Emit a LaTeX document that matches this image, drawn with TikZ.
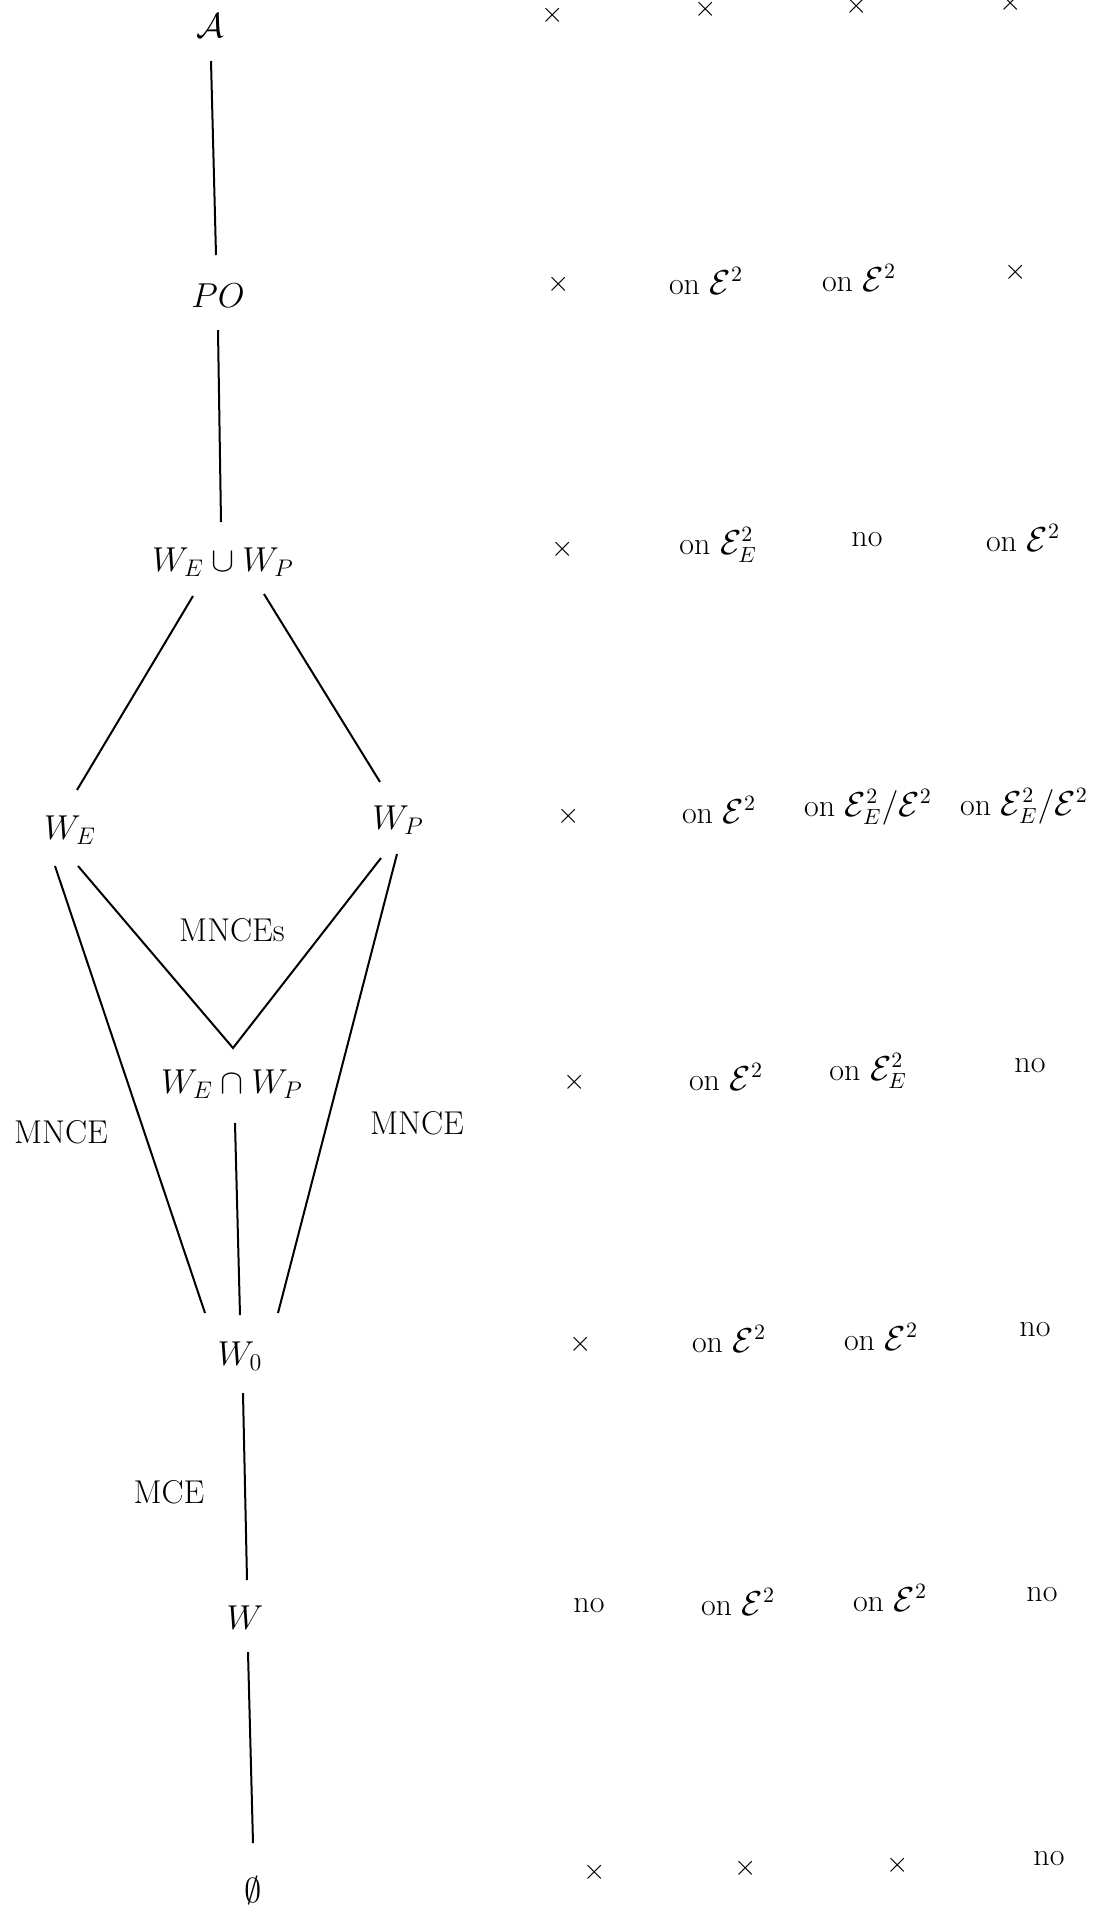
\documentclass[tikz,border=0pt]{standalone}
\usetikzlibrary{calc}
\begin{document}
\begin{tikzpicture}[x=0.5pt,y=-0.5pt,
  lbl/.style={inner sep=0pt, font=\fontsize{16.5}{19}\selectfont},
  cell/.style={inner sep=0pt, font=\fontsize{16}{19}\selectfont},
  xcell/.style={inner sep=0pt, font=\fontsize{14}{16}\selectfont},
  edge/.style={line width=1pt}]
\useasboundingbox[fill=white] (0,0) rectangle (1100,1919);

% lattice nodes
\node[lbl] (A)  at (210,26)   {$\mathcal{A}$};
\node[lbl] (PO) at (218,296)  {$PO$};
\node[lbl] (WU) at (223,562)  {$W_E\cup W_P$};
\node[lbl] (WE) at (70,830)   {$W_E$};
\node[lbl] (WP) at (398,820)  {$W_P$};
\node[lbl] (WI) at (232,1084) {$W_E\cap W_P$};
\node[lbl] (W0) at (240,1356) {$W_0$};
\node[lbl] (W)  at (245,1618) {$W$};
\node[lbl] (ES) at (253,1890) {$\emptyset$};

% edge labels
\node[lbl] (l1) at (232,930)  {MNCEs};
\node[lbl] (l2) at (61,1132)  {MNCE};
\node[lbl] (l3) at (417,1123) {MNCE};
\node[lbl] (l4) at (169,1492) {MCE};

% connectors
\draw[edge] ($(A)+(1,35)$) -- ($(PO)+(-2,-41)$);
\draw[edge] ($(PO)+(0,34)$) -- ($(WU)+(-2,-40)$);
\draw[edge] ($(WU)+(-30,34)$) -- ($(WE)+(7,-40)$);
\draw[edge] ($(WU)+(41,32)$) -- ($(WP)+(-18,-38)$);
\draw[edge] ($(WE)+(-15,36)$) -- ($(W0)+(-35,-43)$);
\draw[edge] ($(WE)+(8,36)$) -- ($(WI)+(1,-36)$) -- ($(WP)+(-17,38)$);
\draw[edge] ($(WP)+(-1,34)$) -- ($(W0)+(38,-43)$);
\draw[edge] ($(WI)+(3,39)$) -- ($(W0)+(0,-41)$);
\draw[edge] ($(W0)+(3,37)$) -- ($(W)+(2,-38)$);
\draw[edge] ($(W)+(3,34)$) -- ($(ES)+(0,-47)$);

% table: row A
\node[xcell] (r1a) at (553,15)  {$\times$};
\node[xcell] (r1b) at (706,9)   {$\times$};
\node[xcell] (r1c) at (857,6)   {$\times$};
\node[xcell] (r1d) at (1011,3)  {$\times$};
% row PO
\node[xcell] (r2a) at (559,284) {$\times$};
\node[cell]  (r2b) at (706,281) {on $\mathcal{E}^2$};
\node[cell]  (r2c) at (859,278) {on $\mathcal{E}^2$};
\node[xcell] (r2d) at (1016,272) {$\times$};
% row W_E cup W_P
\node[xcell] (r3a) at (563,549) {$\times$};
\node[cell]  (r3b) at (718,545) {on $\mathcal{E}^2_E$};
\node[cell]  (r3c) at (867,540) {no};
\node[cell]  (r3d) at (1023,538) {on $\mathcal{E}^2$};
% row W_E / W_P
\node[xcell] (r4a) at (569,816) {$\times$};
\node[cell]  (r4b) at (719,810) {on $\mathcal{E}^2$};
\node[cell]  (r4c) at (868,807) {on $\mathcal{E}^2_E/\mathcal{E}^2$};
\node[cell]  (r4d) at (1024,806) {on $\mathcal{E}^2_E/\mathcal{E}^2$};
% row W_E cap W_P
\node[xcell] (r5a) at (575,1082) {$\times$};
\node[cell]  (r5b) at (726,1077) {on $\mathcal{E}^2$};
\node[cell]  (r5c) at (868,1071) {on $\mathcal{E}^2_E$};
\node[cell]  (r5d) at (1030,1066) {no};
% row W_0
\node[xcell] (r6a) at (581,1344) {$\times$};
\node[cell]  (r6b) at (729,1339) {on $\mathcal{E}^2$};
\node[cell]  (r6c) at (881,1337) {on $\mathcal{E}^2$};
\node[cell]  (r6d) at (1035,1330) {no};
% row W
\node[cell]  (r7a) at (589,1606) {no};
\node[cell]  (r7b) at (738,1602) {on $\mathcal{E}^2$};
\node[cell]  (r7c) at (890,1598) {on $\mathcal{E}^2$};
\node[cell]  (r7d) at (1042,1595) {no};
% row empty
\node[xcell] (r8a) at (595,1872) {$\times$};
\node[xcell] (r8b) at (746,1868) {$\times$};
\node[xcell] (r8c) at (898,1865) {$\times$};
\node[cell]  (r8d) at (1049,1859) {no};
\end{tikzpicture}
\end{document}
